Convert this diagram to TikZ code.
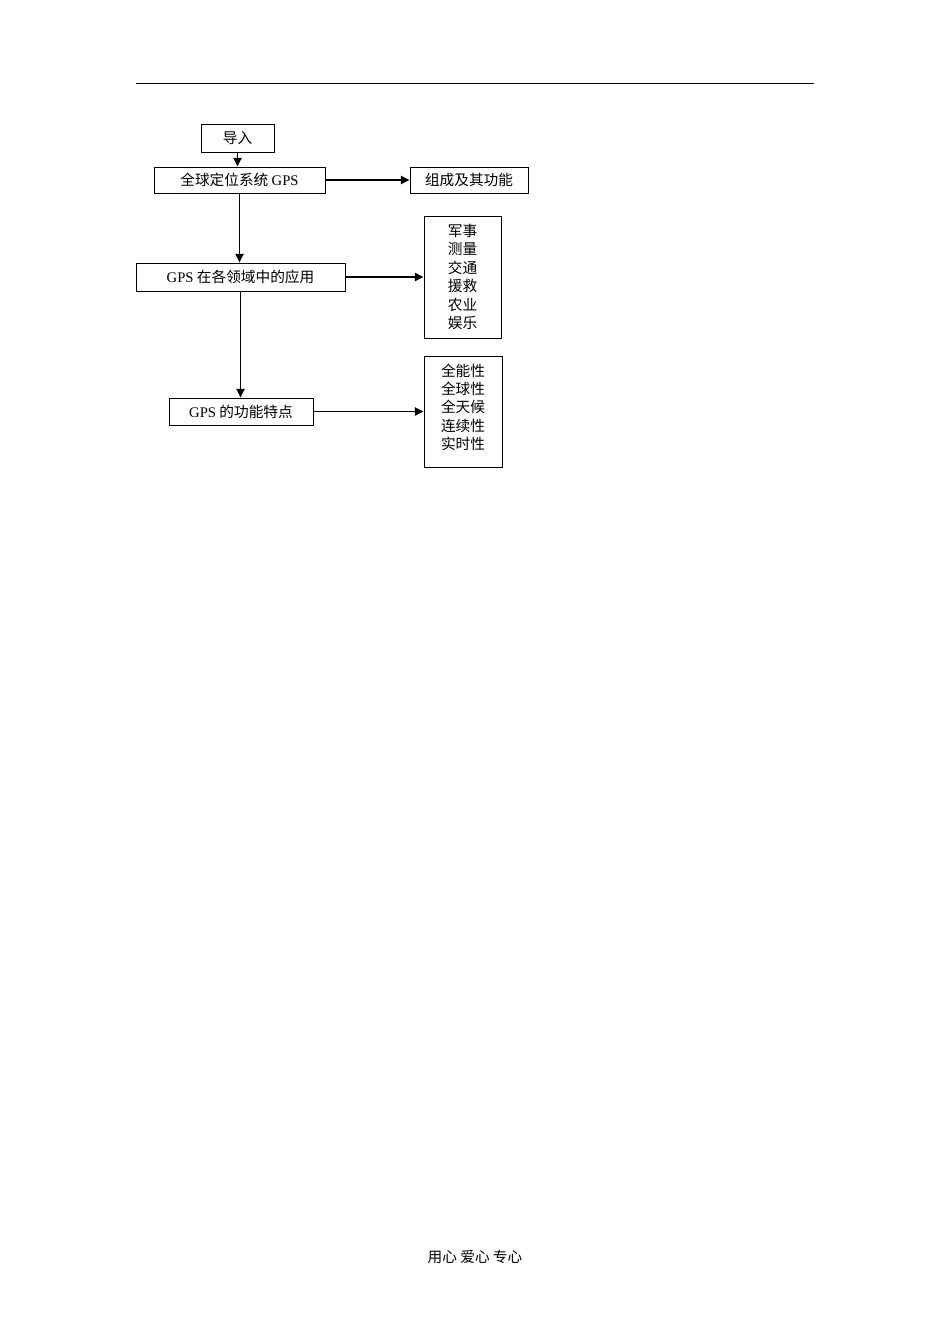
\documentclass[tikz,border=0pt]{standalone}
\usepackage{fontspec}
\setmainfont{Liberation Serif}
\newfontfamily\cjk{Noto Sans CJK SC}
\usetikzlibrary{arrows.meta}
\def\pxu{0.75pt}
\begin{document}
\begin{tikzpicture}[x=0.75pt, y=-0.75pt,
  box/.style={draw, line width=0.6pt, inner sep=0pt, font=\cjk\fontsize{11pt}{13.8pt}\selectfont},
  link/.style={line width=1.4pt, -{Triangle[length=6.5pt,width=6pt]}}]
  \useasboundingbox (0,0) rectangle (950,1344);
  \draw[line width=0.75pt] (136,84) -- (814,84);
  \node[box, minimum width=73*\pxu, minimum height=28*\pxu] (intro) at (237.5,138) {导入};
  \node[box, minimum width=171*\pxu, minimum height=26*\pxu] (gps) at (239.5,180) {全球定位系统 {\rmfamily GPS}};
  \node[box, minimum width=118*\pxu, minimum height=26*\pxu] (parts) at (469,180) {组成及其功能};
  \node[box, minimum width=209*\pxu, minimum height=28*\pxu] (apps) at (240.5,277) {{\rmfamily GPS} 在各领域中的应用};
  \node[box, align=center, minimum width=77*\pxu, minimum height=122*\pxu] (uses) at (462.5,277)
    {军事\\测量\\交通\\援救\\农业\\娱乐};
  \node[box, minimum width=144*\pxu, minimum height=27*\pxu] (feat) at (241,411.5) {{\rmfamily GPS} 的功能特点};
  \node[box, minimum width=78*\pxu, minimum height=111*\pxu] (traits) at (463,411.5)
    {\raisebox{-1pt}[0pt][0pt]{\begin{tabular}{@{}c@{}}全能性\\全球性\\全天候\\连续性\\实时性\end{tabular}}};
  \draw[link] (intro.south) -- (intro.south |- gps.north);
  \draw[link] (gps.east) -- (parts.west);
  \draw[link] (gps.south) -- (gps.south |- apps.north);
  \draw[link] (apps.east) -- (apps.east -| uses.west);
  \draw[link] (apps.south) -- (apps.south |- feat.north);
  \draw[link] (feat.east) -- (feat.east -| traits.west);
  \node[font=\cjk\fontsize{11pt}{13pt}\selectfont] (motto) at (475,1257) {用心\ 爱心\ 专心};
\end{tikzpicture}
\end{document}
